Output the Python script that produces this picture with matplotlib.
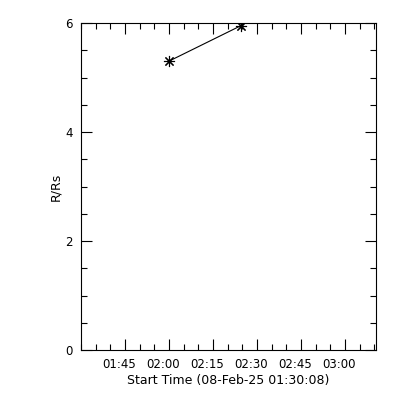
import matplotlib
matplotlib.use("Agg")
import matplotlib.pyplot as plt
import matplotlib.transforms as mtransforms
from matplotlib.ticker import MultipleLocator

# minutes after 01:30:00 on 08-Feb-25
t_min = [30.0, 54.5]
r_rs = [5.30, 5.95]

tick_minutes = [15, 30, 45, 60, 75, 90]
tick_labels = ["01:45", "02:00", "02:15", "02:30", "02:45", "03:00"]
y_ticks = [0, 2, 4, 6]

fig = plt.figure(figsize=(4, 4), dpi=100)
fig.patch.set_facecolor("white")
ax = fig.add_axes([0.2025, 0.125, 0.7375, 0.8175])

ax.plot(t_min, r_rs, color="black", linewidth=0.8,
        marker=(8, 2, 0), markersize=8, markeredgewidth=0.8)

ax.set_xlim(0, 100.6)
ax.set_ylim(0, 6)
ax.set_xticks(tick_minutes)
ax.set_xticklabels(tick_labels)
ax.xaxis.set_minor_locator(MultipleLocator(5))
ax.set_yticks(y_ticks)
ax.yaxis.set_minor_locator(MultipleLocator(0.5))

ax.tick_params(which="both", direction="in", top=True, right=True,
               width=0.8, labelsize=8.5, colors="black")
ax.tick_params(which="major", length=8, pad=6)
ax.tick_params(which="minor", length=4)
for s in ax.spines.values():
    s.set_linewidth(0.8)

# IDL puts the time labels a little left of their ticks
shift = mtransforms.ScaledTranslation(-6 / 100, 0, fig.dpi_scale_trans)
for lbl in ax.get_xticklabels():
    lbl.set_transform(lbl.get_transform() + shift)

ax.set_xlabel("Start Time (08-Feb-25 01:30:08)", fontsize=9, labelpad=2)
ax.set_ylabel("R/Rs", fontsize=9, labelpad=2)

fig.savefig("out.png", dpi=100)
